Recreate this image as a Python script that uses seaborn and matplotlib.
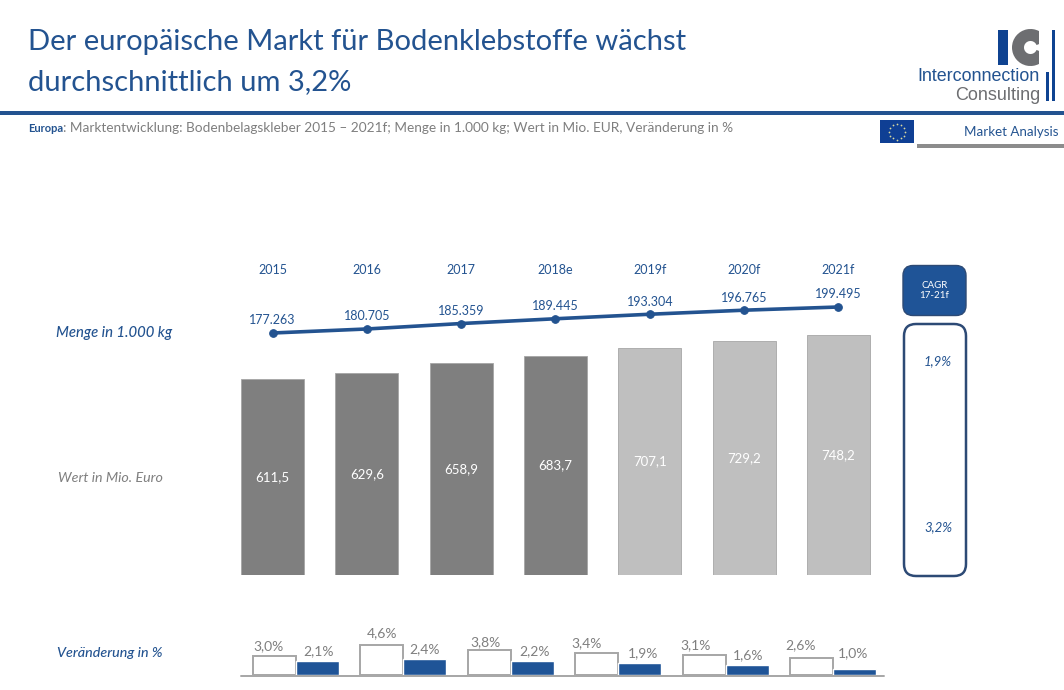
import matplotlib
matplotlib.use("Agg")
import matplotlib.pyplot as plt
from matplotlib.patches import FancyBboxPatch, Rectangle, Wedge
import numpy as np
import pandas as pd
import seaborn as sns

years = ["2015", "2016", "2017", "2018e", "2019f", "2020f", "2021f"]
menge = [177263, 180705, 185359, 189445, 193304, 196765, 199495]
menge_labels = ["177.263", "180.705", "185.359", "189.445", "193.304", "196.765", "199.495"]
wert = [611.5, 629.6, 658.9, 683.7, 707.1, 729.2, 748.2]
wert_labels = ["611,5", "629,6", "658,9", "683,7", "707,1", "729,2", "748,2"]
periods = ["15-16", "16-17", "17-18", "18-19", "19-20", "20-21"]
chg_wert = [3.0, 4.6, 3.8, 3.4, 3.1, 2.6]
chg_menge = [2.1, 2.4, 2.2, 1.9, 1.6, 1.0]
chg_wert_dx = [-6, 0, -4, -10, -9, -11]
chg_menge_dx = [1, 0, 2, 3, 1, -2]
chg_wert_dy = [0, 2, -1.5, 0, 0, 3.5]
chg_menge_dy = [1, 1, 0, 0, 0, 5.5]

W, H = 1064, 690
BLUE = "#235390"
BAR_BLUE = "#1f5497"
DARK = "#7f7f7f"
LIGHT = "#bfbfbf"
GREY = "#7f7f7f"
LOGO_BLUE = "#0f4391"
LOGO_GREY = "#6d6e71"
sns.set_theme(style="white")
plt.rcParams["font.family"] = ["Lato", "DejaVu Sans"]

fig = plt.figure(figsize=(W / 100, H / 100), dpi=100, facecolor="white")

def px_axes(l, t, r, b):
    return fig.add_axes([l / W, 1 - b / H, (r - l) / W, (b - t) / H])

# Overlay in pixel coordinates for the page furniture
ov = fig.add_axes([0, 0, 1, 1], zorder=5)
ov.set_xlim(0, W); ov.set_ylim(H, 0); ov.axis("off"); ov.patch.set_alpha(0)

# Main bars
x0, step = 272.5, 94.33
ax = px_axes(x0 - step / 2, 300, x0 + 6.5 * step, 575)
df = pd.DataFrame({"year": years, "wert": wert})
sns.barplot(data=df, x="year", y="wert", hue="year", order=years, hue_order=years,
            palette=[DARK] * 4 + [LIGHT] * 3, width=63 / step, legend=False,
            saturation=1, edgecolor="#a6a6a6", linewidth=0.6, ax=ax)
ax.set_xlim(-0.5, 6.5); ax.set_ylim(0, 275 / 0.321); ax.axis("off")
for i, (v, lab) in enumerate(zip(wert, wert_labels)):
    ax.text(i, v / 2, lab, ha="center", va="center", color="white", fontsize=9.5)

# Line
axl = px_axes(x0 - step / 2, 280, x0 + 6.5 * step, 345)
sns.lineplot(x=list(range(7)), y=menge, color=BLUE, lw=2.6, marker="o", markersize=5.5,
             markeredgecolor=BLUE, ax=axl)
axl.set_xlim(-0.5, 6.5)
ppu = 26 / (199495 - 177263)
axl.set_ylim(177263 - (345 - 333) / ppu, 177263 + (333 - 280) / ppu)
axl.axis("off"); axl.patch.set_alpha(0)
for i, (v, lab) in enumerate(zip(menge, menge_labels)):
    axl.annotate(lab, (i, v), xytext=(0, 4.7), textcoords="offset points", ha="center",
                 va="bottom", color=BLUE, fontsize=9, annotation_clip=False)
    ov.text(x0 + i * step, 269.5, years[i], ha="center", va="center", color=BLUE, fontsize=9)

# Change bars
sstep = 107.5
axs = px_axes(295.6 - sstep / 2, 620, 295.6 + 5.5 * sstep, 675)
dfs = pd.DataFrame({"p": periods * 2, "s": ["Wert"] * 6 + ["Menge"] * 6, "v": chg_wert + chg_menge})
sns.barplot(data=dfs, x="p", y="v", hue="s", order=periods, hue_order=["Wert", "Menge"],
            palette=["white", BAR_BLUE], width=86 / sstep, legend=False, saturation=1,
            gap=0, ax=axs)
for p, s in zip(axs.patches, ["Wert"] * 6 + ["Menge"] * 6):
    if s == "Wert":
        p.set_edgecolor("#a6a6a6"); p.set_linewidth(1.4)
axs.set_xlim(-0.5, 5.5); axs.set_ylim(0, 55 / 6.5); axs.axis("off"); axs.patch.set_alpha(0)
for i in range(6):
    axs.annotate(f"{chg_wert[i]:.1f}%".replace(".", ","), (i - 0.2, chg_wert[i]),
                 xytext=(chg_wert_dx[i] * 0.72, 2.6 + chg_wert_dy[i] * 0.72),
                 textcoords="offset points", ha="center", va="bottom", color=GREY, fontsize=10,
                 annotation_clip=False)
    axs.annotate(f"{chg_menge[i]:.1f}%".replace(".", ","), (i + 0.2, chg_menge[i]),
                 xytext=(chg_menge_dx[i] * 0.72, 2.6 + chg_menge_dy[i] * 0.72),
                 textcoords="offset points", ha="center", va="bottom", color=GREY, fontsize=10,
                 annotation_clip=False)
ov.plot([241, 884], [675.5, 675.5], color="#a6a6a6", lw=1.4)

# Title and header
ov.text(28, 42, "Der europäische Markt für Bodenklebstoffe wächst", fontsize=21, color=BLUE, va="center")
ov.text(28, 82, "durchschnittlich um 3,2%", fontsize=21, color=BLUE, va="center")
ov.add_patch(Rectangle((0, 111), W, 3.5, color=BLUE, lw=0))
ov.text(28, 128, "Europa", fontsize=8, color=BLUE, weight="bold", va="center")
ov.text(63, 128, ": Marktentwicklung: Bodenbelagskleber 2015 – 2021f; Menge in 1.000 kg; Wert in Mio. EUR, Veränderung in %",
        fontsize=9.85, color=GREY, va="center")

# Side labels
ov.text(56, 333.5, "Menge in 1.000 kg", fontsize=10.7, style="italic", color=BLUE, va="center", weight="medium")
ov.text(58, 477.5, "Wert in Mio. Euro", fontsize=10.3, style="italic", color=GREY, va="center")
ov.text(57, 653, "Veränderung in %", fontsize=10.3, style="italic", color=BLUE, va="center", weight="medium")

# CAGR boxes
ov.add_patch(FancyBboxPatch((903 + 10, 265.5 + 10), 63 - 20, 50 - 20, boxstyle="round,pad=10,rounding_size=10",
                            fc=BAR_BLUE, ec="#2d4a75", lw=1))
ov.text(934.5, 285, "CAGR", fontsize=7, color="white", ha="center", va="center")
ov.text(934.5, 295, "17-21f", fontsize=7, color="white", ha="center", va="center")
ov.add_patch(FancyBboxPatch((904 + 12, 324 + 12), 62 - 24, 252 - 24, boxstyle="round,pad=12,rounding_size=12",
                            fc="white", ec="#2d4a75", lw=1.8))
ov.text(938, 361, "1,9%", fontsize=9.5, style="italic", color=BLUE, ha="center", va="center")
ov.text(938, 527, "3,2%", fontsize=9.5, style="italic", color=BLUE, ha="center", va="center")

# Logo
ov.add_patch(Rectangle((998, 30), 10, 35, color=LOGO_BLUE, lw=0))
c = Wedge((1030.5, 47.5), 18.5, 22, 338, width=12, color=LOGO_GREY, lw=0)
ov.add_patch(c)
c.set_clip_path(Rectangle((1010, 25), 29, 45, transform=ov.transData))
ov.add_patch(Rectangle((1052, 30), 3, 71, color=LOGO_BLUE, lw=0))
ov.add_patch(Rectangle((1046, 72), 3, 29, color=LOGO_BLUE, lw=0))
ov.text(1040, 76.5, "Interconnection", fontsize=12.9, color=BLUE, ha="right", va="center", family="Liberation Sans")
ov.text(1040, 95, "Consulting", fontsize=13, color=LOGO_GREY, ha="right", va="center", family="Liberation Sans")

# Flag and tag
ov.add_patch(Rectangle((880, 120), 34, 23, color="#0f3f94", lw=0))
ang = np.deg2rad(np.arange(0, 360, 30))
ov.scatter(897 + 8 * np.cos(ang), 131.5 + 8 * np.sin(ang), s=1.6, color="#d8d8a0", lw=0, zorder=6)
ov.text(1058, 132.5, "Market Analysis", fontsize=9.6, color=BLUE, ha="right", va="center")
ov.add_patch(Rectangle((917, 144), W - 917, 3.5, color="#8c8c8c", lw=0))

fig.savefig("out.png", dpi=100, facecolor="white")
